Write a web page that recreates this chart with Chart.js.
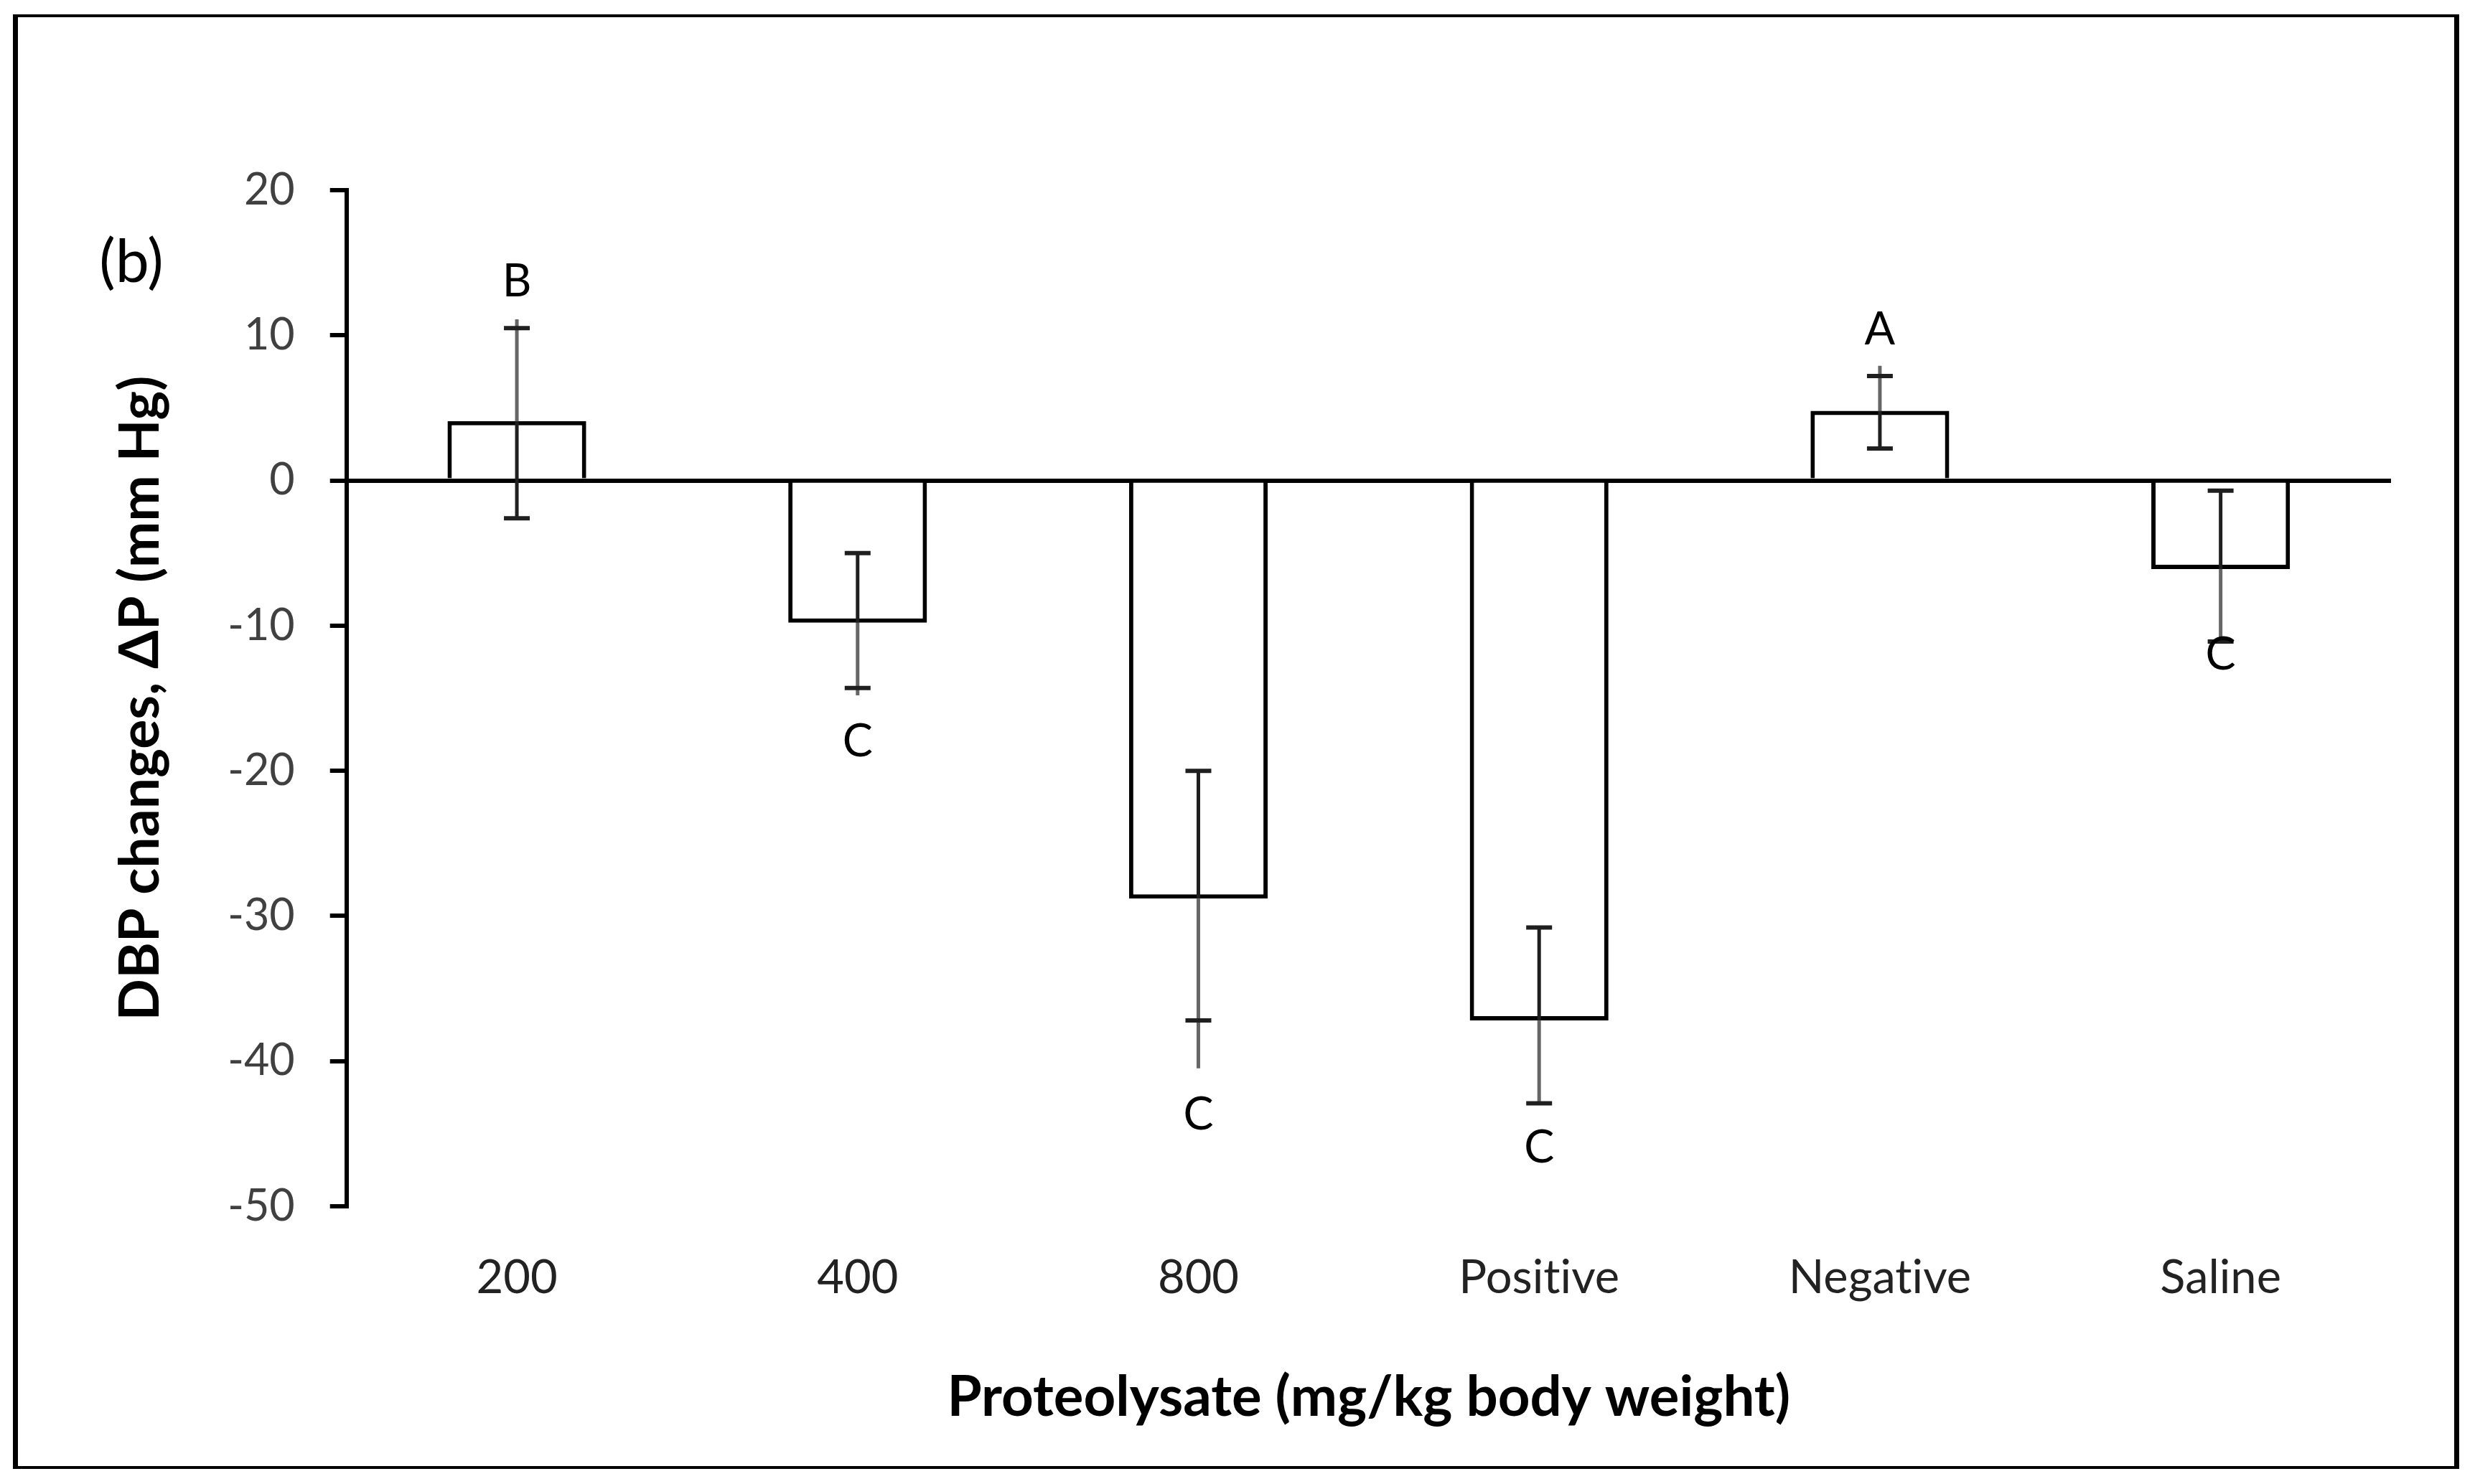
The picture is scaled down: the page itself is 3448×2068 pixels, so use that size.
<!DOCTYPE html>
<html>
<head>
<meta charset="utf-8">
<script src="https://cdn.jsdelivr.net/npm/chart.js@4.4.1/dist/chart.umd.min.js"></script>
<style>
  html, body { margin: 0; padding: 0; background: #fff; }
  canvas { display: block; }
</style>
</head>
<body>
<canvas id="dbpChart" width="3448" height="2068"></canvas>
<script>
// categories and values
const categories = ["200", "400", "800", "Positive", "Negative", "Saline"];
const dbpChange = [4.1, -9.8, -28.8, -37.2, 4.8, -6.1];
// error bar caps (upper / lower)
const capHigh = [10.5, -5.0, -20.0, -30.8, 7.2, -0.7];
const capLow = [-2.6, -14.3, -37.2, -42.9, 2.2, -11.1];
// whisker line ends (they overshoot the caps in the original)
const lineHigh = [11.1, -5.0, -20.0, -30.8, 7.9, -0.7];
const lineLow = [-2.6, -14.8, -40.5, -42.9, 2.2, -11.2];
// significance letters and the value they sit at
const letters = ["B", "C", "C", "C", "A", "C"];
const letterAt = [13.7, -18.0, -43.7, -46.0, 10.4, -12.0];
const yTicks = [20, 10, 0, -10, -20, -30, -40, -50];

const FONT = "Lato, 'Open Sans', sans-serif";

// frame round the whole figure and the "(b)" tag
const framePlugin = {
  id: "frame",
  beforeDraw(chart) {
    const c = chart.ctx;
    c.save();
    c.fillStyle = "#fff";
    c.fillRect(0, 0, chart.width, chart.height);
    c.fillStyle = "#000";
    c.fillRect(18, 21, 7, 2026);      // left
    c.fillRect(3419, 21, 7, 2026);    // right
    c.fillRect(18, 20, 3408, 4);      // top
    c.fillRect(18, 2043, 3408, 4);    // bottom
    c.restore();
  },
  afterDraw(chart) {
    const c = chart.ctx;
    c.save();
    c.fillStyle = "#000";
    c.font = "84px " + FONT;
    c.textAlign = "center";
    c.textBaseline = "middle";
    c.fillText("(b)", 183, 366);
    c.restore();
  }
};

// error bars and letters
const errorPlugin = {
  id: "errorBars",
  afterDatasetsDraw(chart) {
    const c = chart.ctx;
    const x = chart.scales.x;
    const y = chart.scales.y;
    c.save();
    categories.forEach((cat, i) => {
      const px = x.getPixelForValue(i);
      const pm = y.getPixelForValue(dbpChange[i]);
      const pTop = y.getPixelForValue(lineHigh[i]);
      const pBot = y.getPixelForValue(lineLow[i]);
      const up = dbpChange[i] >= 0;

      c.lineWidth = 5;
      // outer half grey, inner half dark
      c.strokeStyle = up ? "#666" : "#1f1f1f";
      c.beginPath(); c.moveTo(px, pm); c.lineTo(px, pTop); c.stroke();
      c.strokeStyle = up ? "#1f1f1f" : "#666";
      c.beginPath(); c.moveTo(px, pm); c.lineTo(px, pBot); c.stroke();

      c.strokeStyle = "#1f1f1f";
      c.lineWidth = 6;
      [capHigh[i], capLow[i]].forEach(v => {
        const py = y.getPixelForValue(v);
        c.beginPath(); c.moveTo(px - 18, py); c.lineTo(px + 18, py); c.stroke();
      });

      c.fillStyle = "#000";
      c.font = "63px " + FONT;
      c.textAlign = "center";
      c.textBaseline = "middle";
      c.fillText(letters[i], px, y.getPixelForValue(letterAt[i]));
    });
    c.restore();
  }
};

const ctx = document.getElementById("dbpChart").getContext("2d");
new Chart(ctx, {
  type: "bar",
  data: {
    labels: categories,
    datasets: [{
      data: dbpChange,
      backgroundColor: "#fff",
      borderColor: "#000",
      borderWidth: 6,
      barPercentage: 0.407,
      categoryPercentage: 1
    }]
  },
  options: {
    responsive: false,
    animation: false,
    devicePixelRatio: 1,
    layout: { padding: { left: 150, top: 265, right: 117, bottom: 60 } },
    plugins: { legend: { display: false }, tooltip: { enabled: false } },
    scales: {
      x: {
        afterFit(scale) { scale.height = 327; },
        grid: { display: false, drawTicks: false },
        border: { display: false },
        ticks: {
          color: "#222",
          font: { family: FONT, size: 65 },
          padding: 61,
          // zero-width non-joiner stops Lato's "ti" ligature
          callback: (v, i) => categories[i].replace(/ti/g, "t\u200Ci")
        },
        title: {
          display: true,
          text: "Proteolysate (mg/kg body weight)",
          color: "#000",
          font: { family: FONT, size: 78, weight: "bold" },
          padding: { top: 0, bottom: 13 }
        }
      },
      y: {
        min: -50,
        max: 20,
        z: 1,
        afterFit(scale) { scale.width = 332.7; },
        afterBuildTicks(scale) { scale.ticks = yTicks.map(v => ({ value: v })); },
        grid: {
          drawOnChartArea: true,
          color: c => (c.tick && c.tick.value === 0 ? "#000" : "rgba(0,0,0,0)"),
          lineWidth: 6,
          tickColor: "#000",
          tickLength: 23,
          tickWidth: 6
        },
        border: { display: true, color: "#000", width: 6 },
        ticks: { color: "#404040", font: { family: FONT, size: 61 }, padding: 49 },
        title: {
          display: true,
          text: "DBP changes, \u0394P (mm Hg)",
          color: "#000",
          font: { family: FONT, size: 77, weight: "bold" },
          padding: { top: 0, bottom: 0 }
        }
      }
    }
  },
  plugins: [framePlugin, errorPlugin]
});
</script>
</body>
</html>
